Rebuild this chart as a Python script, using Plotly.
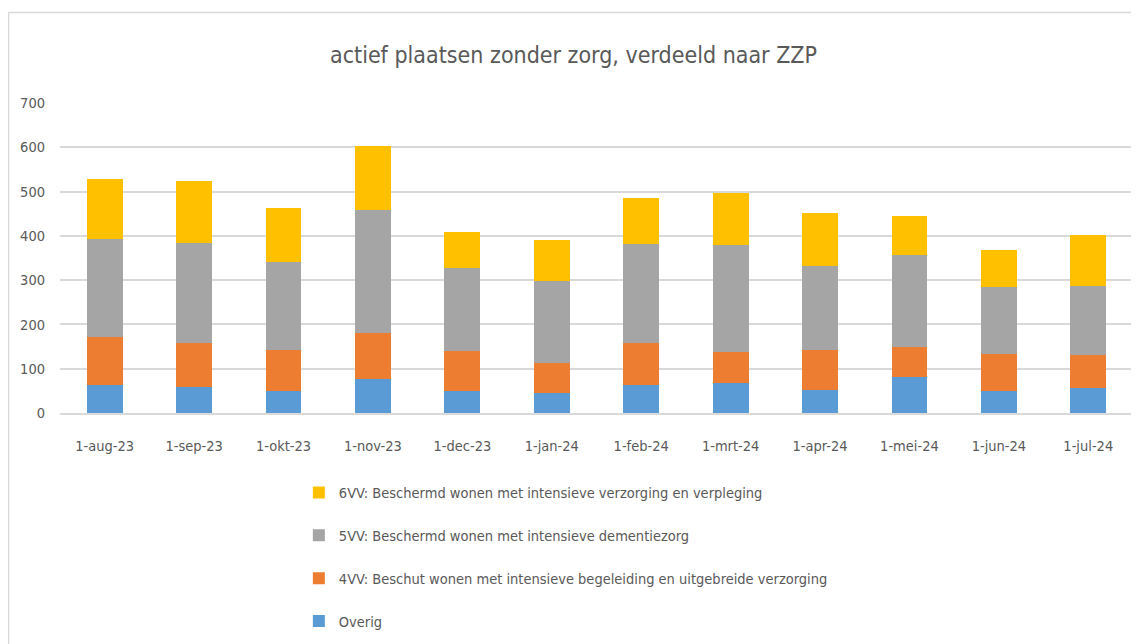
import plotly.graph_objects as go

categories = ["1-aug-23", "1-sep-23", "1-okt-23", "1-nov-23", "1-dec-23", "1-jan-24",
              "1-feb-24", "1-mrt-24", "1-apr-24", "1-mei-24", "1-jun-24", "1-jul-24"]
overig = [63, 58, 49, 76, 50, 46, 63, 68, 52, 81, 50, 57]
vv4 = [109, 100, 94, 104, 90, 67, 95, 69, 91, 67, 84, 74]
vv5 = [221, 227, 197, 279, 187, 184, 224, 243, 189, 208, 150, 155]
vv6 = [136, 139, 122, 144, 82, 93, 104, 117, 119, 88, 85, 115]

series = [
    ("Overig", overig, "#5B9BD5", 4),
    ("4VV: Beschut wonen met intensieve begeleiding en uitgebreide verzorging", vv4, "#ED7D31", 3),
    ("5VV: Beschermd wonen met intensieve dementiezorg", vv5, "#A5A5A5", 2),
    ("6VV: Beschermd wonen met intensieve verzorging en verpleging", vv6, "#FFC000", 1),
]

FONT = "DejaVu Sans Condensed, Lato, sans-serif"
TXT = "#595959"

fig = go.Figure()
for name, vals, col, rank in series:
    fig.add_trace(go.Bar(x=categories, y=vals, name=name, marker_color=col,
                         marker_line_width=0, legendgroup=name, legendrank=rank))

fig.update_layout(
    width=1131, height=636,
    barmode="stack", bargap=0.6,
    plot_bgcolor="white", paper_bgcolor="white",
    margin=dict(l=52, r=6, t=95, b=228),
    font=dict(family=FONT, color=TXT, size=14.5),
    title=dict(text="actief plaatsen zonder zorg, verdeeld naar ZZP", x=0.5, xanchor="center",
               y=1 - 47 / 636, yanchor="middle", font=dict(size=23, color=TXT, family=FONT)),
    yaxis=dict(range=[0, 700], dtick=100, showgrid=True, gridcolor="#D9D9D9", gridwidth=1.5,
               zeroline=False, showline=False, ticklabelstandoff=14,
               tickfont=dict(size=14.5, color=TXT)),
    xaxis=dict(showline=True, linecolor="#D9D9D9", linewidth=1.5, ticks="",
               ticklabelstandoff=19, tickfont=dict(size=14.5, color=TXT)),
    legend=dict(orientation="v", x=0.2226, xanchor="left", y=-0.205, yanchor="top",
                traceorder="grouped", tracegroupgap=21,
                font=dict(size=14.5, color=TXT), itemwidth=30),
    showlegend=True,
)

fig.add_shape(type="line", xref="paper", yref="paper", x0=-0.048, x1=1.01,
              y0=1.292, y1=1.292, line=dict(color="#D9D9D9", width=1.5))
fig.add_shape(type="line", xref="paper", yref="paper", x0=-0.048, x1=-0.048,
              y0=1.292, y1=-0.75, line=dict(color="#D9D9D9", width=1.5))

fig.write_html("out.html")
